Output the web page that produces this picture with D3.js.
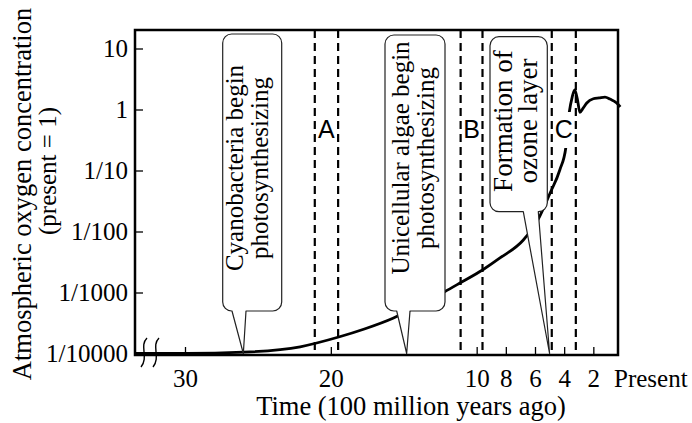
<!DOCTYPE html>
<html>
<head>
<meta charset="utf-8">
<script src="https://cdn.jsdelivr.net/npm/d3@7"></script>
<style>
  body { margin: 0; background: #fff; }
  svg { display: block; }
</style>
</head>
<body>
<svg id="chart" width="692" height="423"></svg>
<script>
// time in units of 100 million years ago, concentration relative to present
const timeTicks = [30, 20, 10, 8, 6, 4, 2];
const timeTickLabels = ["30", "20", "10", "8", "6", "4", "2"];
const concTicks = [10, 1, 0.1, 0.01, 0.001, 0.0001];
const concTickLabels = ["10", "1", "1/10", "1/100", "1/1000", "1/10000"];

const curveTime = [33.4, 29.9, 26, 22.1, 19.4, 17.7, 15.7, 13.9, 12.2, 11.15, 9.6, 8.4, 6.8, 5.8, 4.97, 4.3, 3.88,
  3.65, 3.45, 3.28, 3.1, 2.92, 2.7, 2.45, 2.0, 1.6, 1.2, 0.85, 0.4, 0.15];
const curveConc = [1.0e-4, 1.0e-4, 1.05e-4, 1.29e-4, 1.88e-4, 2.52e-4, 3.82e-4, 6.24e-4, 1.03e-3, 1.43e-3, 2.34e-3,
  3.68e-3, 7.26e-3, 1.55e-2, 4.23e-2, 0.102, 0.243, 0.9, 1.6, 2.1, 1.5, 0.9, 1.05, 1.28, 1.5, 1.55, 1.6, 1.48, 1.28, 1.1];

const eraNames = ["A", "B", "C"];
const eraStart = [21.1, 11.1, 4.85];
const eraEnd = [19.5, 9.6, 3.2];

const eventTime = [26, 14.8, 5];
const eventText = [
  ["Cyanobacteria begin", "photosynthesizing"],
  ["Unicellular algae begin", "photosynthesizing"],
  ["Formation of", "ozone layer"]
];

const SERIF = '"Liberation Serif", "Times New Roman", serif';
const SANS = '"Liberation Sans", Arial, sans-serif';

const svg = d3.select("#chart");
const frame = { left: 135, right: 618, top: 30, bottom: 355 };

const x = d3.scaleLinear().domain([30, 0]).range([185, 622.5]);
const y = d3.scaleLog().domain([1e-4, 10]).range([353.5, 48.5]);

const serifText = (sel, size) => sel
    .style("font-family", SERIF)
    .style("font-size", (size || 25) + "px")
    .style("fill", "#000");

// axes with inward ticks
const yAxis = svg.append("g")
    .attr("transform", `translate(${frame.left},0)`)
    .call(d3.axisLeft(y).tickValues(concTicks)
      .tickFormat((d, i) => concTickLabels[i])
      .tickSize(-8).tickPadding(7));
yAxis.select(".domain").remove();
yAxis.selectAll("line").attr("stroke", "#000").attr("stroke-width", 1.3);
yAxis.selectAll("text").call(serifText);

const xAxis = svg.append("g")
    .attr("transform", `translate(0,${frame.bottom})`)
    .call(d3.axisBottom(x).tickValues(timeTicks)
      .tickFormat((d, i) => timeTickLabels[i])
      .tickSize(-8).tickPadding(14));
xAxis.select(".domain").remove();
xAxis.selectAll("line").attr("stroke", "#000").attr("stroke-width", 1.3);
xAxis.selectAll("text").call(serifText);

svg.append("text")
    .attr("x", 614).attr("y", 387)
    .text("Present")
    .call(serifText);

// axis titles
svg.append("text")
    .attr("text-anchor", "middle")
    .attr("x", 411).attr("y", 415)
    .text("Time (100 million years ago)")
    .call(serifText, 26.5);

svg.append("text")
    .attr("text-anchor", "middle")
    .attr("transform", "translate(31,194) rotate(-90)")
    .text("Atmospheric oxygen concentration")
    .call(serifText, 26.5);

svg.append("text")
    .attr("text-anchor", "middle")
    .attr("transform", "translate(56,171) rotate(-90)")
    .text("(present = 1)")
    .call(serifText, 25);

// dashed period boundaries
const bounds = eraStart.concat(eraEnd);
svg.append("g")
  .selectAll("line")
  .data(bounds)
  .enter().append("line")
    .attr("x1", d => x(d)).attr("x2", d => x(d))
    .attr("y1", frame.top).attr("y2", frame.bottom)
    .attr("stroke", "#000")
    .attr("stroke-width", 2.2)
    .attr("stroke-dasharray", "8,5");

// oxygen curve
const line = d3.line()
    .x(d => x(d[0]))
    .y(d => y(d[1]))
    .curve(d3.curveMonotoneX);

svg.append("path")
    .datum(curveTime.map((t, i) => [t, curveConc[i]]))
    .attr("d", line)
    .attr("fill", "none")
    .attr("stroke", "#000")
    .attr("stroke-width", 2.8);

// period letters
const letters = svg.append("g")
  .selectAll("g")
  .data(eraNames)
  .enter().append("g")
    .attr("transform", (d, i) => `translate(${(x(eraStart[i]) + x(eraEnd[i])) / 2},0)`);

letters.append("rect")
    .attr("x", -8).attr("y", 112)
    .attr("width", 16).attr("height", 36)
    .attr("fill", "#fff");

letters.append("text")
    .attr("text-anchor", "middle")
    .attr("y", 138)
    .style("font-family", SANS)
    .style("font-size", "25px")
    .style("fill", "#000")
    .text(d => d);

// callouts
const boxes = [
  { x0: 222.7, x1: 281.7, y0: 34, y1: 311, tl: 232, tr: 246, base: 243, gap: 25, cy: 168, size: 25 },
  { x0: 385, x1: 445, y0: 35, y1: 311, tl: 396.7, tr: 410, base: 408.5, gap: 25, cy: 158, size: 25 },
  { x0: 490, x1: 547.3, y0: 36.7, y1: 211.7, tl: 523.3, tr: 538.3, base: 512, gap: 25, cy: 121, size: 27 }
];

const calloutPath = (b, tipX, tipY) => {
  const r = 9;
  const p = d3.path();
  p.moveTo(b.x0 + r, b.y0);
  p.lineTo(b.x1 - r, b.y0);
  p.arcTo(b.x1, b.y0, b.x1, b.y0 + r, r);
  p.lineTo(b.x1, b.y1 - r);
  p.arcTo(b.x1, b.y1, b.x1 - r, b.y1, r);
  p.lineTo(b.tr, b.y1);
  p.lineTo(tipX, tipY);
  p.lineTo(b.tl, b.y1);
  p.lineTo(b.x0 + r, b.y1);
  p.arcTo(b.x0, b.y1, b.x0, b.y1 - r, r);
  p.lineTo(b.x0, b.y0 + r);
  p.arcTo(b.x0, b.y0, b.x0 + r, b.y0, r);
  p.closePath();
  return p.toString();
};

const callouts = svg.append("g")
  .selectAll("g")
  .data(eventText)
  .enter().append("g");

callouts.append("path")
    .attr("d", (d, i) => calloutPath(boxes[i], x(eventTime[i]), y(1e-4)))
    .attr("fill", "#fff")
    .attr("stroke", "#222")
    .attr("stroke-width", 1.2)
    .attr("stroke-linejoin", "round");

callouts.each(function(d, i) {
  const b = boxes[i];
  d3.select(this).selectAll("text")
    .data(d)
    .enter().append("text")
      .attr("text-anchor", "middle")
      .attr("transform", (s, j) => `translate(${b.base + j * b.gap},${b.cy}) rotate(-90)`)
      .text(s => s)
      .call(serifText, b.size);
});

// plot frame
svg.append("rect")
    .attr("x", frame.left).attr("y", frame.top)
    .attr("width", frame.right - frame.left)
    .attr("height", frame.bottom - frame.top)
    .attr("fill", "none")
    .attr("stroke", "#000")
    .attr("stroke-width", 2.5);

// axis break marks
svg.append("g")
  .selectAll("path")
  .data([144, 156])
  .enter().append("path")
    .attr("d", d => `M${d + 3},338 C${d - 5},346 ${d + 5},357 ${d - 3},367`)
    .attr("fill", "none")
    .attr("stroke", "#000")
    .attr("stroke-width", 1.4);
</script>
</body>
</html>
